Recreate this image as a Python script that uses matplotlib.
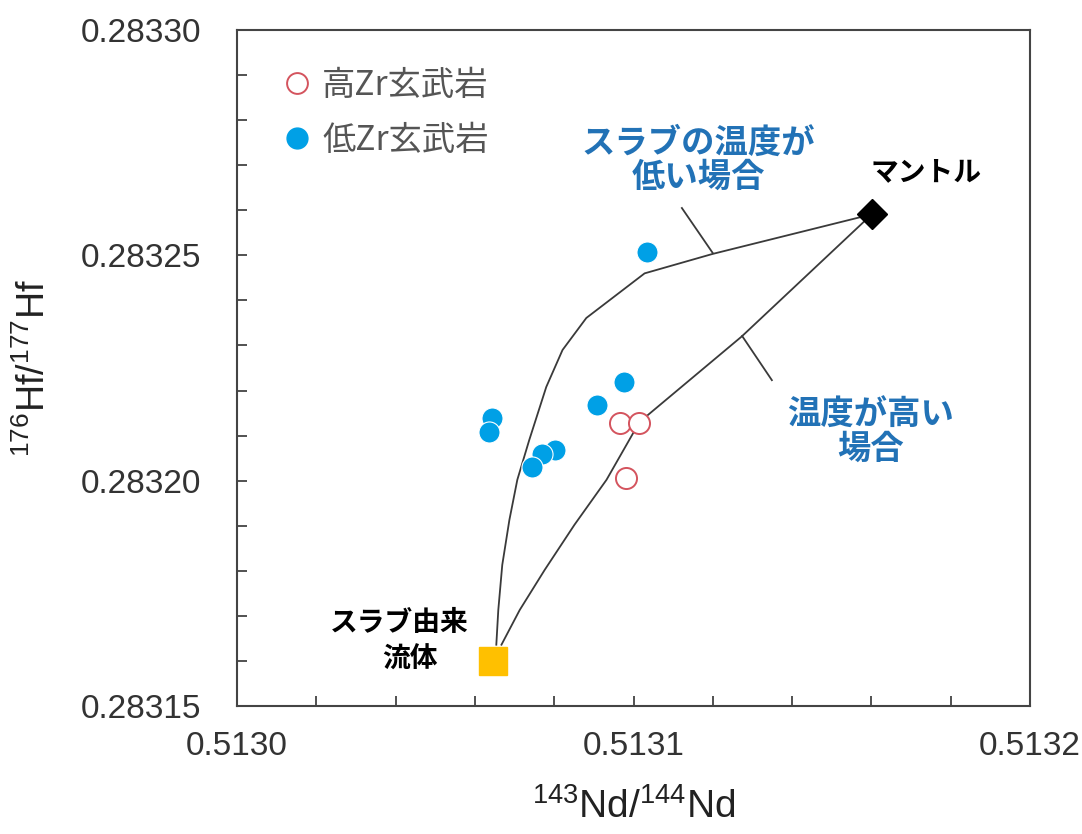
import numpy as np
import matplotlib
import matplotlib.pyplot as plt
from matplotlib.lines import Line2D
from matplotlib.ticker import MultipleLocator, FormatStrFormatter

matplotlib.use("Agg")
plt.rcParams["font.family"] = ["Liberation Sans", "Noto Sans CJK JP", "DejaVu Sans"]
plt.rcParams["mathtext.fontset"] = "custom"
plt.rcParams["mathtext.rm"] = "Liberation Sans"

JP = ["Noto Sans CJK JP", "DejaVu Sans"]

# ---- data ----
low_zr_nd = [0.5131035, 0.5130975, 0.5130907, 0.5130644, 0.5130636,
             0.5130803, 0.5130770, 0.5130745]
low_zr_hf = [0.2832507, 0.2832219, 0.2832168, 0.2832139, 0.2832108,
             0.2832069, 0.2832060, 0.2832031]

high_zr_nd = [0.5130965, 0.5131015, 0.5130982]
high_zr_hf = [0.2832128, 0.2832128, 0.2832007]

mantle = (0.5131601, 0.2832591)
slab_fluid = (0.5130646, 0.2831600)

# mixing curve, cold slab
cold_nd = [0.5130654, 0.5130659, 0.5130669, 0.5130687, 0.5130707, 0.5130737,
           0.5130780, 0.5130821, 0.5130881, 0.5131028, 0.5131199, 0.5131601]
cold_hf = [0.2831636, 0.2831713, 0.2831813, 0.2831913, 0.2832002, 0.2832090,
           0.2832208, 0.2832290, 0.2832361, 0.2832460, 0.2832503, 0.2832591]

# mixing curve, hot slab
hot_nd = [0.5130667, 0.5130713, 0.5130776, 0.5130851, 0.5130932, 0.5131015,
          0.5131273, 0.5131601]
hot_hf = [0.2831636, 0.2831713, 0.2831802, 0.2831902, 0.2832002, 0.2832130,
          0.2832320, 0.2832591]

# leader lines from the curves to their labels
lead_cold_nd = [0.5131122, 0.5131200]
lead_cold_hf = [0.2832605, 0.2832505]
lead_hot_nd = [0.5131274, 0.5131349]
lead_hot_hf = [0.2832321, 0.2832223]

fig = plt.figure(figsize=(10.82, 8.34), dpi=100)
ax = fig.add_axes([237 / 1082, 1 - 706 / 834, (1030 - 237) / 1082, (706 - 30) / 834])

line_c = "#3a3a3a"
ax.plot(cold_nd, cold_hf, color=line_c, lw=1.3, zorder=2)
ax.plot(hot_nd, hot_hf, color=line_c, lw=1.3, zorder=2)
ax.plot(lead_cold_nd, lead_cold_hf, color=line_c, lw=1.3)
ax.plot(lead_hot_nd, lead_hot_hf, color=line_c, lw=1.3)

ax.scatter(low_zr_nd, low_zr_hf, s=230, color="#00A0E6", edgecolors="white",
           linewidths=0.8, zorder=4)
ax.scatter(high_zr_nd, high_zr_hf, s=230, facecolors="white",
           edgecolors="#D4545E", linewidths=1.4, zorder=4)

ax.plot(*mantle, marker="D", ms=15, color="black", zorder=5)
ax.plot(*slab_fluid, marker="s", ms=20, color="#FFC000", zorder=5)

ax.set_xlim(0.5130, 0.5132)
ax.set_ylim(0.28315, 0.28330)
ax.xaxis.set_major_locator(MultipleLocator(0.0001))
ax.xaxis.set_minor_locator(MultipleLocator(0.00002))
ax.yaxis.set_major_locator(MultipleLocator(0.00005))
ax.yaxis.set_minor_locator(MultipleLocator(0.00001))
ax.xaxis.set_major_formatter(FormatStrFormatter("%.4f"))
ax.yaxis.set_major_formatter(FormatStrFormatter("%.5f"))
ax.tick_params(which="both", direction="in", length=7, width=1.2, color="#333333",
               labelsize=24, labelcolor="#333333")
ax.tick_params(axis="y", which="both", pad=26)
ax.tick_params(axis="x", which="both", pad=18)
for sp in ax.spines.values():
    sp.set_color("#444444")
    sp.set_linewidth(1.5)

ax.set_xlabel(r"$^{143}$Nd/$^{144}$Nd", fontsize=28, color="#222222", labelpad=19)
ax.set_ylabel(r"$^{176}$Hf/$^{177}$Hf", fontsize=27, color="#222222", labelpad=20)

blue_t = "#2272B6"
ax.text(0.5131163, 0.2832711, "スラブの温度が\n低い場合", family=JP, fontsize=24,
        fontweight="bold", color=blue_t, ha="center", va="center", linespacing=1.05)
ax.text(0.5131597, 0.2832108, "温度が高い\n場合", family=JP, fontsize=24,
        fontweight="bold", color=blue_t, ha="center", va="center", linespacing=1.05)
ax.text(0.5131738, 0.2832685, "マントル", family=JP, fontsize=20,
        fontweight="bold", color="black", ha="center", va="center")
ax.text(0.5130583, 0.2831684, "スラブ由来", family=JP, fontsize=20,
        fontweight="bold", color="black", ha="right", va="center")
ax.text(0.5130436, 0.2831602, "流体", family=JP, fontsize=20,
        fontweight="bold", color="black", ha="center", va="center")

handles = [
    Line2D([], [], ls="none", marker="o", ms=15, mfc="white", mec="#D4545E", mew=1.4),
    Line2D([], [], ls="none", marker="o", ms=15, mfc="#00A0E6", mec="#00A0E6"),
]
leg = ax.legend(handles, ["高Zr玄武岩", "低Zr玄武岩"], loc="upper left",
                bbox_to_anchor=(0.017, 0.988), frameon=False, handlelength=1.0,
                handletextpad=0.25, labelspacing=0.6,
                prop={"family": JP, "size": 24})
for t in leg.get_texts():
    t.set_color("#555555")

fig.savefig("out.png", dpi=100)
